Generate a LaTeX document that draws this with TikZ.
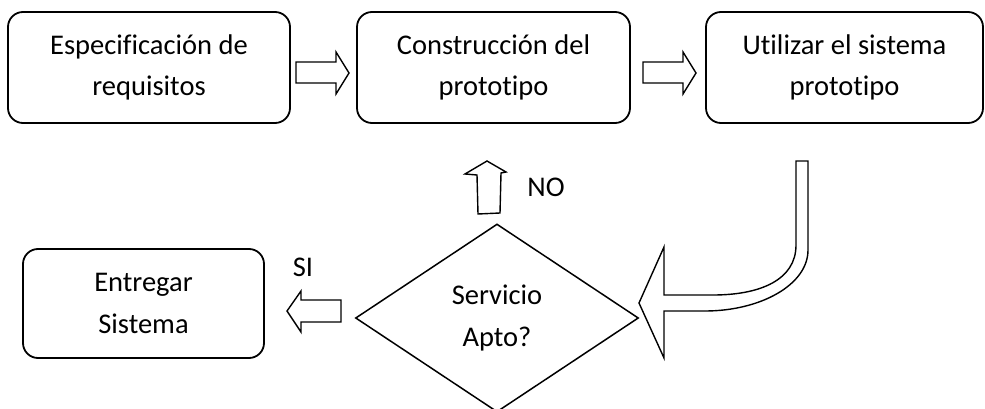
\documentclass[tikz,border=0pt]{standalone}
\usepackage{fontspec}
\setmainfont{Carlito}[Ligatures={NoCommon,NoContextual}]
\usetikzlibrary{shapes.geometric}
\begin{document}
\begin{tikzpicture}[x=1pt,y=-1pt,
  txt/.style={font=\fontsize{28.5}{41.5}\selectfont},
  box/.style={txt, draw, line width=1.8pt, rounded corners=15pt, align=center, inner sep=0pt},
  decision/.style={txt, draw, diamond, line width=1.5pt, align=center, inner sep=0pt, minimum width=283pt, minimum height=188pt},
  blk/.style={draw, line width=1.4pt, line join=miter, fill=white}]
\useasboundingbox (0,0) rectangle (985,409);
% boxes
\node[box, minimum width=282pt, minimum height=111pt] (b1) at (149,67.5) {Especificación de\\requisitos};
\node[box, minimum width=273pt, minimum height=111pt] (b2) at (493.5,67.5) {Construcción del\\prototipo};
\node[box, minimum width=277pt, minimum height=111pt] (b3) at (844.5,67.5) {Utilizar el sistema\\prototipo};
\node[box, minimum width=241pt, minimum height=109pt] (b4) at (143.5,303.5) {Entregar\\Sistema};
\node[decision] (d) at (497,318) {Servicio\\Apto?};
% labels
\node[txt] (no) at (546,187) {NO};
\node[txt] (si) at (303,267) {SI};
% block arrows
\draw[blk] (296,62)--(336,62)--(336,52)--(349,73)--(336,94)--(336,83)--(296,83)--cycle;
\draw[blk] (643,62)--(683,62)--(683,52)--(696,73)--(683,94)--(683,83)--(643,83)--cycle;
\draw[blk] (478,214)--(477,175)--(465,174)--(487,161)--(506,172)--(501,173)--(500,213)--cycle;
\draw[blk] (341,300)--(301,300)--(301,291)--(287,311)--(301,332)--(301,322)--(341,322)--cycle;
\draw[blk] (796,161)--(796,245) .. controls (796,280) and (760,295) .. (713,295) -- (664,295) -- (664,247) -- (639,303) -- (664,358) -- (664,311) -- (705,311) .. controls (760,311) and (808,285) .. (808,250) -- (808,161) -- cycle;
\end{tikzpicture}
\end{document}
